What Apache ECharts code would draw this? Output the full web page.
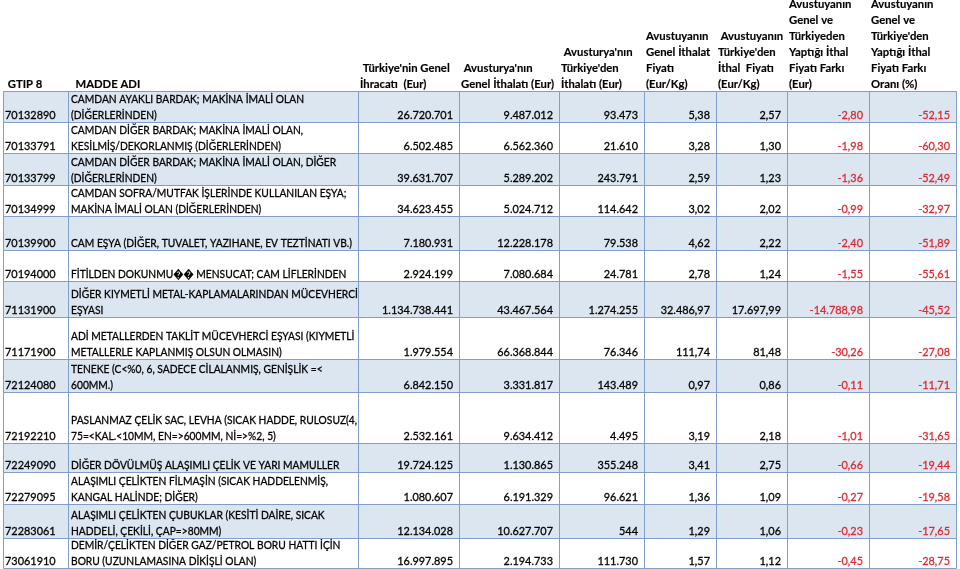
<!DOCTYPE html>
<html>
<head>
<meta charset="utf-8">
<script src="https://cdn.jsdelivr.net/npm/echarts@6.0.0/dist/echarts.min.js"></script>
<style>
  html, body { margin: 0; background: #fff; }
  #chart { width: 960px; height: 569px; }
</style>
</head>
<body>
<div id="chart"></div>
<script>
// --- table data ---
const headers = [
  ' GTIP 8',
  '  MADDE ADI',
  " Türkiye'nin Genel\nİhracatı  (Eur)",
  " Avusturya'nın\nGenel İthalatı (Eur)",
  " Avusturya'nın\nTürkiye'den\nİthalatı (Eur)",
  'Avustuyanın\nGenel İthalat\nFiyatı\n(Eur/Kg)',
  " Avustuyanın\nTürkiye'den\nİthal  Fiyatı\n(Eur/Kg)",
  'Avustuyanın\nGenel ve\nTürkiyeden\nYaptığı İthal\nFiyatı Farkı\n(Eur)',
  "Avustuyanın\nGenel ve\nTürkiye'den\nYaptığı İthal\nFiyatı Farkı\nOranı (%)"
]

const codes = [
  '70132890', '70133791', '70133799', '70134999', '70139900', '70194000', '71131900',
  '71171900', '72124080', '72192210', '72249090', '72279095', '72283061', '73061910'
]

const names = [
  'CAMDAN AYAKLI BARDAK; MAKİNA İMALİ OLAN\n(DİĞERLERİNDEN)',
  'CAMDAN DİĞER BARDAK; MAKİNA İMALİ OLAN,\nKESİLMİŞ/DEKORLANMIŞ (DİĞERLERİNDEN)',
  'CAMDAN DİĞER BARDAK; MAKİNA İMALİ OLAN, DİĞER\n(DİĞERLERİNDEN)',
  'CAMDAN SOFRA/MUTFAK İŞLERİNDE KULLANILAN EŞYA;\nMAKİNA İMALİ OLAN (DİĞERLERİNDEN)',
  'CAM EŞYA (DİĞER, TUVALET, YAZIHANE, EV TEZTİNATI VB.)',
  'FİTİLDEN DOKUNMU\uFFFD\uFFFD MENSUCAT; CAM LİFLERİNDEN',
  'DİĞER KIYMETLİ METAL-KAPLAMALARINDAN MÜCEVHERCİ\nEŞYASI',
  'ADİ METALLERDEN TAKLİT MÜCEVHERCİ EŞYASI (KIYMETLİ\nMETALLERLE KAPLANMIŞ OLSUN OLMASIN)',
  'TENEKE (C<%0, 6, SADECE CİLALANMIŞ, GENİŞLİK =<\n600MM.)',
  'PASLANMAZ ÇELİK SAC, LEVHA (SICAK HADDE, RULOSUZ(4,\n75=<KAL.<10MM, EN=>600MM, Nİ=>%2, 5)',
  'DİĞER DÖVÜLMÜŞ ALAŞIMLI ÇELİK VE YARI MAMULLER',
  'ALAŞIMLI ÇELİKTEN FİLMAŞİN (SICAK HADDELENMİŞ,\nKANGAL HALİNDE; DİĞER)',
  'ALAŞIMLI ÇELİKTEN ÇUBUKLAR (KESİTİ DAİRE, SICAK\nHADDELİ, ÇEKİLİ, ÇAP=>80MM)',
  'DEMİR/ÇELİKTEN DİĞER GAZ/PETROL BORU HATTI İÇİN\nBORU (UZUNLAMASINA DİKİŞLİ OLAN)'
]

const trExports = [26720701, 6502485, 39631707, 34623455, 7180931, 2924199, 1134738441,
  1979554, 6842150, 2532161, 19724125, 1080607, 12134028, 16997895]
const atImports = [9487012, 6562360, 5289202, 5024712, 12228178, 7080684, 43467564,
  66368844, 3331817, 9634412, 1130865, 6191329, 10627707, 2194733]
const atImportsFromTr = [93473, 21610, 243791, 114642, 79538, 24781, 1274255,
  76346, 143489, 4495, 355248, 96621, 544, 111730]
const atPrice = [5.38, 3.28, 2.59, 3.02, 4.62, 2.78, 32486.97, 111.74, 0.97, 3.19, 3.41, 1.36, 1.29, 1.57]
const atPriceFromTr = [2.57, 1.30, 1.23, 2.02, 2.22, 1.24, 17697.99, 81.48, 0.86, 2.18, 2.75, 1.09, 1.06, 1.12]
const priceDiff = [-2.80, -1.98, -1.36, -0.99, -2.40, -1.55, -14788.98, -30.26, -0.11, -1.01, -0.66, -0.27, -0.23, -0.45]
const priceDiffPct = [-52.15, -60.30, -52.49, -32.97, -51.89, -55.61, -45.52, -27.08, -11.71, -31.65,
  -19.44, -19.58, -17.65, -28.75]

// --- layout ---
const colEdges = [3, 68, 358, 459, 559, 644, 716, 787, 869, 956]
const rowEdges = [91, 122, 153, 185, 216, 250, 281, 317, 359, 392, 443, 472, 504, 538, 568]

const columns = [codes, names, trExports, atImports, atImportsFromTr, atPrice, atPriceFromTr, priceDiff, priceDiffPct]
const colKind = ['code', 'name', 'int', 'int', 'int', 'dec', 'dec', 'neg', 'neg']

const FONT = 'Lato, "Open Sans", sans-serif'
const FONT_SIZE = 12
const LINE_H = 16
const BORDER = '#7f9fca'
const STRIPE = '#dce6f1'
const RED = '#dd2a33'
const INK = '#000000'

// squeeze the substitute font to Calibri-like widths
const measureCtx = document.createElement('canvas').getContext('2d')
function textWidth(text, weight) {
  measureCtx.font = `${weight} ${FONT_SIZE}px ${FONT}`
  return measureCtx.measureText(text).width
}
const nameScale = 281 / textWidth('CAM EŞYA (DİĞER, TUVALET, YAZIHANE, EV TEZTİNATI VB.)', 'normal')
const numScale = 71 / textWidth('1.134.738.441', 'normal')
const headScale = 93 / textWidth('Genel İthalatı (Eur)', 'bold')

function groupDigits(s) {
  return s.replace(/\B(?=(\d{3})+(?!\d))/g, '.')
}
function formatCell(value, kind) {
  if (kind === 'code' || kind === 'name') {
    return value
  }
  const sign = value < 0 ? '-' : ''
  if (kind === 'int') {
    return sign + groupDigits(String(Math.abs(Math.round(value))))
  }
  const [whole, frac] = Math.abs(value).toFixed(2).split('.')
  return sign + groupDigits(whole) + ',' + frac
}

const headerCells = headers.map((_, c) => [c, -1])
const bodyCells = []
codes.forEach((_, r) => {
  for (let c = 0; c < columns.length; c++) {
    bodyCells.push([c, r])
  }
})

function cellBox(api, c, r) {
  const top = r < 0 ? 0 : rowEdges[r]
  const bottom = r < 0 ? rowEdges[0] : rowEdges[r + 1]
  const tl = api.coord([colEdges[c], top])
  const br = api.coord([colEdges[c + 1], bottom])
  return { x0: Math.round(tl[0]), y0: Math.round(tl[1]), x1: Math.round(br[0]), y1: Math.round(br[1]) }
}

function textEl(text, x, y, align, scale, opts) {
  const fill = opts.fill || INK
  return {
    type: 'text',
    x,
    y,
    scaleX: scale,
    style: {
      text,
      fill,
      // thin outline to get closer to the heavier ClearType look of the original
      stroke: fill,
      lineWidth: opts.bold ? 0.15 : 0.3,
      fontFamily: FONT,
      fontSize: FONT_SIZE,
      fontWeight: opts.bold ? 'bold' : 'normal',
      lineHeight: LINE_H,
      align,
      textAlign: align,
      verticalAlign: 'bottom',
      textVerticalAlign: 'bottom',
    },
  }
}

function renderCell(params, api) {
  const c = api.value(0)
  const r = api.value(1)
  const b = cellBox(api, c, r)

  if (r < 0) {
    return textEl(headers[c], b.x0 + 2, b.y1 + 1, 'left', headScale, { bold: true })
  }

  const kind = colKind[c]
  const text = formatCell(columns[c][r], kind)
  let label
  if (kind === 'code') {
    label = textEl(text, b.x0 + 2, b.y1 + 1, 'left', numScale, {})
  } else if (kind === 'name') {
    label = textEl(text, b.x0 + 3, b.y1 + 1, 'left', nameScale, {})
  } else {
    label = textEl(text, b.x1 - 6, b.y1 + 1, 'right', numScale, { fill: kind === 'neg' ? RED : INK })
  }

  return {
    type: 'group',
    children: [
      {
        type: 'rect',
        shape: { x: b.x0, y: b.y0, width: b.x1 - b.x0, height: b.y1 - b.y0 },
        style: { fill: r % 2 === 0 ? STRIPE : '#ffffff' },
      },
      label,
    ],
  }
}

function renderBorder(params, api) {
  const b = cellBox(api, api.value(0), api.value(1))
  return {
    type: 'rect',
    shape: { x: b.x0 + 0.5, y: b.y0 + 0.5, width: b.x1 - b.x0, height: b.y1 - b.y0 },
    style: { fill: 'none', stroke: BORDER, lineWidth: 1 },
  }
}

const chart = echarts.init(document.getElementById('chart'))
chart.setOption({
  animation: false,
  backgroundColor: '#ffffff',
  grid: { left: 0, right: 0, top: 0, bottom: 0 },
  xAxis: { type: 'value', min: 0, max: 960, show: false },
  yAxis: { type: 'value', min: 0, max: 569, inverse: true, show: false },
  series: [
    {
      type: 'custom',
      renderItem: renderCell,
      data: headerCells.concat(bodyCells),
      silent: true,
    },
    {
      type: 'custom',
      renderItem: renderBorder,
      data: bodyCells,
      silent: true,
    },
  ],
})
</script>
</body>
</html>
